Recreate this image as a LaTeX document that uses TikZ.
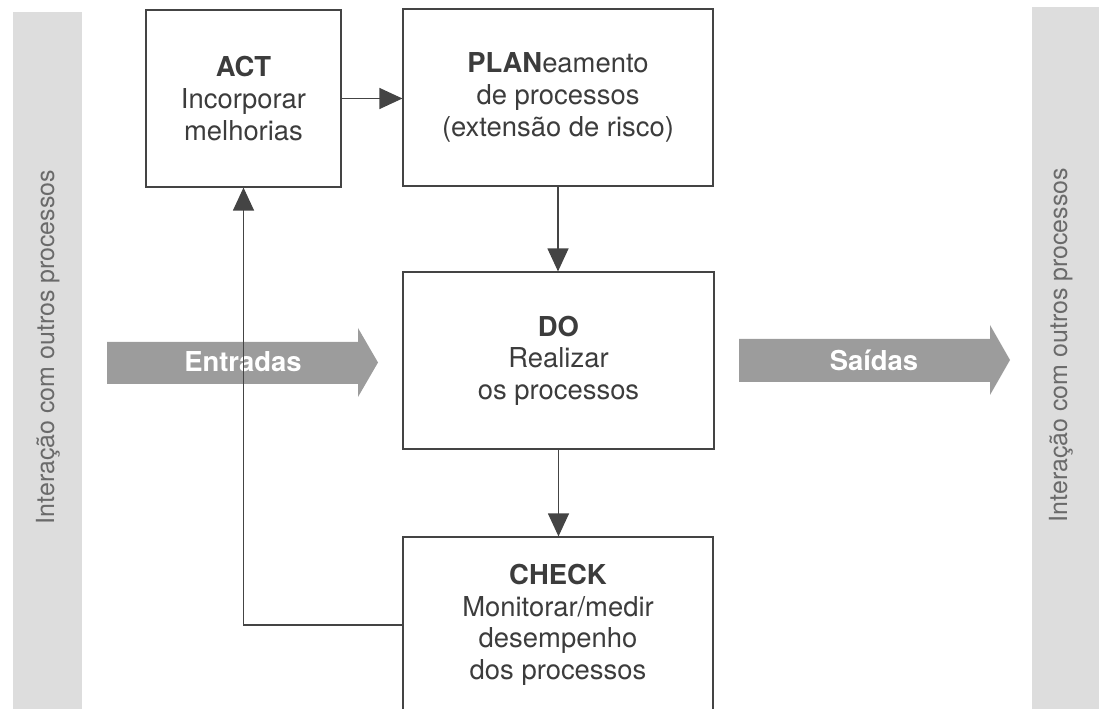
\documentclass[tikz,border=0pt]{standalone}
\usepackage{fontspec}
\setmainfont{TeX Gyre Heros}
\usetikzlibrary{arrows.meta}
\definecolor{txtgray}{HTML}{3C3C3C}
\definecolor{linegray}{HTML}{444444}
\definecolor{bargray}{HTML}{DDDDDD}
\definecolor{arrowgray}{HTML}{9C9C9C}
\definecolor{sidetxt}{HTML}{6A6A6A}
\tikzset{
  stagebox/.style={draw=linegray, line width=0.7pt, fill=white, inner sep=0pt,
    align=center, text=txtgray, font=\fontsize{15.6}{18}\selectfont},
  flow/.style={draw=linegray, line width=0.7pt,
    -{Triangle[length=0.46cm,width=0.42cm]}, color=linegray},
  sidebar/.style={fill=bargray, draw=none},
  sidetext/.style={rotate=90, text=sidetxt, font=\fontsize{14.2}{16}\selectfont},
  fatarrowfill/.style={fill=arrowgray, draw=none},
  fattext/.style={text=white, font=\fontsize{15.6}{18}\selectfont\bfseries}
}
\begin{document}
\begin{tikzpicture}[x=0.02cm, y=-0.02cm]
\useasboundingbox (0,0) rectangle (1099,709);
\clip (0,0) rectangle (1099,709);
% side bars
\fill[sidebar] (13,12) rectangle (82,720);
\fill[sidebar] (1032,7) rectangle (1110,720);
\node[sidetext] (lefttext) at (48,347) {Interação com outros processos};
\node[sidetext] (righttext) at (1061,345) {Interação com outros processos};
% boxes
\node[stagebox, minimum width=3.9cm, minimum height=3.54cm] (act) at (243.5,98.5)
  {\textbf{ACT}\\Incorporar\\melhorias};
\node[stagebox, minimum width=6.2cm, minimum height=3.54cm] (plan) at (558,97.5)
  {\textbf{PLAN}eamento\\de processos\\(extensão de risco)};
\node[stagebox, minimum width=6.22cm, minimum height=3.54cm] (do) at (558.5,360.5)
  {\textbf{DO}\\Realizar\\os processos};
\node[stagebox, minimum width=6.2cm, minimum height=3.52cm] (check) at (558,625)
  {\textbf{CHECK}\\Monitorar/medir\\desempenho\\dos processos};
% fat arrows
\fill[fatarrowfill] (107,342) -- (358,342) -- (358,328) -- (378,362.5) -- (358,397)
  -- (358,384) -- (107,384) -- cycle;
\node[fattext] (entradas) at (243,362) {Entradas};
\fill[fatarrowfill] (739,339) -- (990,339) -- (990,325) -- (1010,360) -- (990,395)
  -- (990,382) -- (739,382) -- cycle;
\node[fattext] (saidas) at (874,360) {Saídas};
% connectors
\draw[flow] (act.east) -- (act.east -| plan.west);
\draw[flow] (plan.south) -- (plan.south |- do.north);
\draw[flow] (do.south) -- (do.south |- check.north);
\draw[flow] (check.west) -| (act.south);
\end{tikzpicture}
\end{document}
